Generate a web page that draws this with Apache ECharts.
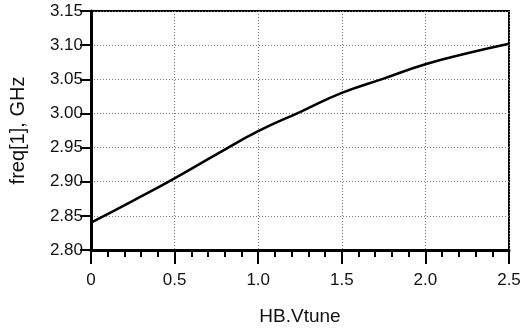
<!DOCTYPE html>
<html>
<head>
<meta charset="utf-8">
<script src="https://cdn.jsdelivr.net/npm/echarts@6/dist/echarts.min.js"></script>
<style>
  html, body { margin: 0; padding: 0; background: #fff; }
  #chart { width: 532px; height: 331px; }
</style>
</head>
<body>
<div id="chart"></div>
<script>
// HB.Vtune sweep (V) and the resulting oscillation frequency (GHz)
const vtune = [0, 0.25, 0.5, 0.75, 1.0, 1.25, 1.5, 1.75, 2.0, 2.25, 2.5];
const freqGHz = [2.840, 2.872, 2.905, 2.940, 2.974, 3.002, 3.030, 3.051, 3.072, 3.088, 3.102];

const font = '"Liberation Sans", Arial, sans-serif';
const chart = echarts.init(document.getElementById("chart"), null, { renderer: "canvas" });

chart.setOption({
  backgroundColor: "#fff",
  animation: false,
  textStyle: { fontFamily: font },
  grid: {
    left: 88,
    top: 11,
    right: 23,
    bottom: 78,
    show: true,
    borderColor: "#000",
    borderWidth: 2,
  },
  xAxis: {
    type: "value",
    min: 0,
    max: 2.5,
    interval: 0.5,
    name: "HB.Vtune",
    nameLocation: "middle",
    nameGap: 57,
    nameTextStyle: { color: "#111", fontSize: 19, fontFamily: font },
    axisLine: { lineStyle: { color: "#000", width: 3 } },
    axisTick: { inside: false, length: 14, lineStyle: { color: "#000", width: 2 } },
    minorTick: { show: true, splitNumber: 5, length: 7, lineStyle: { color: "#000", width: 2 } },
    axisLabel: {
      color: "#111",
      fontSize: 17,
      margin: 22,
      formatter: (v) => (v === 0 ? "0" : v.toFixed(1)),
    },
    splitLine: { show: true, lineStyle: { color: "#777", type: [1, 2], width: 1 } },
  },
  yAxis: {
    type: "value",
    min: 2.8,
    max: 3.15,
    interval: 0.05,
    name: "freq[1], GHz",
    nameLocation: "middle",
    nameGap: 63,
    nameTextStyle: { color: "#111", fontSize: 20, fontFamily: font },
    axisLine: { lineStyle: { color: "#000", width: 3 } },
    axisTick: { inside: false, length: 11, lineStyle: { color: "#000", width: 2 } },
    axisLabel: {
      color: "#111",
      fontSize: 17,
      margin: 8,
      formatter: (v) => v.toFixed(2),
    },
    splitLine: { show: true, lineStyle: { color: "#777", type: [1, 2], width: 1 } },
  },
  series: [
    {
      type: "line",
      data: vtune.map((v, i) => [v, freqGHz[i]]),
      smooth: true,
      showSymbol: false,
      lineStyle: { color: "#000", width: 2.5 },
    },
  ],
});
</script>
</body>
</html>
